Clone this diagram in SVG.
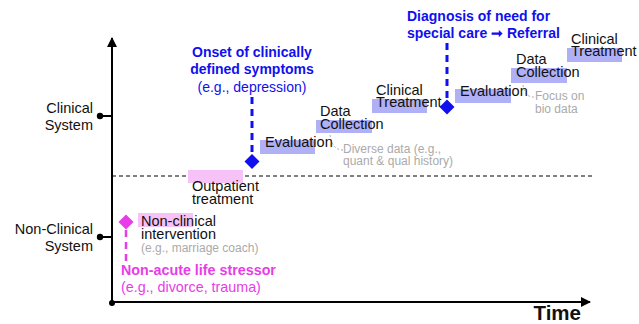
<svg xmlns="http://www.w3.org/2000/svg" width="639" height="324" viewBox="0 0 639 324">
<style>
text{font-family:"Liberation Sans",Arial,sans-serif;}
.lbl{font-size:14.5px;fill:#111;}
.ax{font-size:14.5px;fill:#111;}
.note{font-size:12px;fill:#aaaaaa;}
.blue{fill:#1010ee;font-size:14px;}
.pink{fill:#e83ce8;font-size:14.3px;}
.b{font-weight:bold;}
.hl{fill:#b0b0f6;}
.hp{fill:#f7c2f7;}
.axis{stroke:#000;stroke-width:2;fill:none;}
</style>
<defs>
<marker id="ah" viewBox="0 0 10 10" refX="9" refY="5" markerWidth="5" markerHeight="5" orient="auto" markerUnits="strokeWidth">
<path d="M0,0 L10,5 L0,10 z" fill="#000"/>
</marker>
</defs>
<g id="axes">
<line class="axis" x1="112" y1="303" x2="112" y2="38" marker-end="url(#ah)"/>
<line class="axis" x1="112" y1="302" x2="590" y2="302" marker-end="url(#ah)"/>
<circle cx="112" cy="303" r="3" fill="#000"/>
<line x1="100" y1="116" x2="112" y2="116" stroke="#000" stroke-width="2"/>
<circle cx="100" cy="116" r="3.2" fill="#000"/>
<line x1="100" y1="237" x2="112" y2="237" stroke="#000" stroke-width="2"/>
<circle cx="100" cy="237" r="3.2" fill="#000"/>
<line x1="112" y1="176" x2="592" y2="176" stroke="#000" stroke-width="1" stroke-dasharray="4,3"/>
<text class="b" x="581" y="320" text-anchor="end" font-size="20.5" fill="#111">Time</text>
</g>
<g id="clinical-system">
<text class="ax" x="93" y="113" text-anchor="end">Clinical</text>
<text class="ax" x="93" y="130" text-anchor="end">System</text>
</g>
<g id="non-clinical-system">
<text class="ax" x="93" y="234" text-anchor="end">Non-Clinical</text>
<text class="ax" x="93" y="251" text-anchor="end">System</text>
</g>
<g id="connectors">
<line x1="252" y1="97" x2="252" y2="155" stroke="#1010ee" stroke-width="3" stroke-dasharray="7,5"/>
<line x1="447" y1="43" x2="447" y2="100" stroke="#1010ee" stroke-width="3" stroke-dasharray="7,5"/>
<line x1="126" y1="230" x2="126" y2="263" stroke="#e83ce8" stroke-width="2.5" stroke-dasharray="7,5"/>
<path d="M330,135 Q332,150 343,150" stroke="#aaaaaa" stroke-width="1" fill="none" stroke-dasharray="2,2"/>
<path d="M523,85 Q525,98 535,97" stroke="#aaaaaa" stroke-width="1" fill="none" stroke-dasharray="2,2"/>
</g>
<g id="onset">
<text class="blue b" x="252" y="57" text-anchor="middle">Onset of clinically</text>
<text class="blue b" x="252" y="74" text-anchor="middle">defined symptoms</text>
<text class="blue" x="252" y="92" text-anchor="middle" font-size="14.5">(e.g., depression)</text>
<path d="M252,154 L259.5,161.5 L252,169 L244.5,161.5 z" fill="#1010ee"/>
</g>
<g id="outpatient">
<rect class="hp" x="188" y="170" width="55" height="13"/>
<text class="lbl" x="192" y="191">Outpatient</text>
<text class="lbl" x="192" y="204">treatment</text>
</g>
<g id="evaluation-1">
<rect class="hl" x="260" y="140" width="55" height="14"/>
<text class="lbl" x="265" y="147">Evaluation</text>
</g>
<g id="data-collection-1">
<rect class="hl" x="316" y="120" width="56" height="13"/>
<text class="lbl" x="320" y="116">Data</text>
<text class="lbl" x="320" y="129">Collection</text>
<text class="note" x="343" y="153">Diverse data (e.g.,</text>
<text class="note" x="343" y="165">quant &amp; qual history)</text>
</g>
<g id="clinical-treatment-1">
<rect class="hl" x="372" y="99" width="55" height="14"/>
<text class="lbl" x="376" y="95">Clinical</text>
<text class="lbl" x="376" y="107">Treatment</text>
</g>
<g id="diagnosis">
<text class="blue b" x="407" y="21">Diagnosis of need for</text>
<text class="blue b" x="407" y="38">special care ➞ Referral</text>
<path d="M447,99.5 L454.5,107 L447,114.5 L439.5,107 z" fill="#1010ee"/>
</g>
<g id="evaluation-2">
<rect class="hl" x="455" y="89" width="56" height="14"/>
<text class="lbl" x="460" y="96">Evaluation</text>
</g>
<g id="data-collection-2">
<rect class="hl" x="511" y="68" width="56" height="15"/>
<text class="lbl" x="516" y="64">Data</text>
<text class="lbl" x="516" y="77">Collection</text>
<text class="note" x="535" y="100">Focus on</text>
<text class="note" x="535" y="113">bio data</text>
</g>
<g id="clinical-treatment-2">
<rect class="hl" x="567" y="48" width="55" height="14"/>
<text class="lbl" x="571" y="44">Clinical</text>
<text class="lbl" x="571" y="56">Treatment</text>
</g>
<g id="non-clinical-intervention">
<rect class="hp" x="138" y="213" width="55" height="14"/>
<text class="lbl" x="141" y="226">Non-clinical</text>
<text class="lbl" x="141" y="239">intervention</text>
<text class="note" x="141" y="252" font-size="13">(e.g., marriage coach)</text>
</g>
<g id="stressor">
<path d="M126,214.5 L133.5,222 L126,229.5 L118.5,222 z" fill="#e83ce8"/>
<text class="pink b" x="121" y="275">Non-acute life stressor</text>
<text class="pink" x="121" y="292" font-size="14.5">(e.g., divorce, trauma)</text>
</g>
</svg>
